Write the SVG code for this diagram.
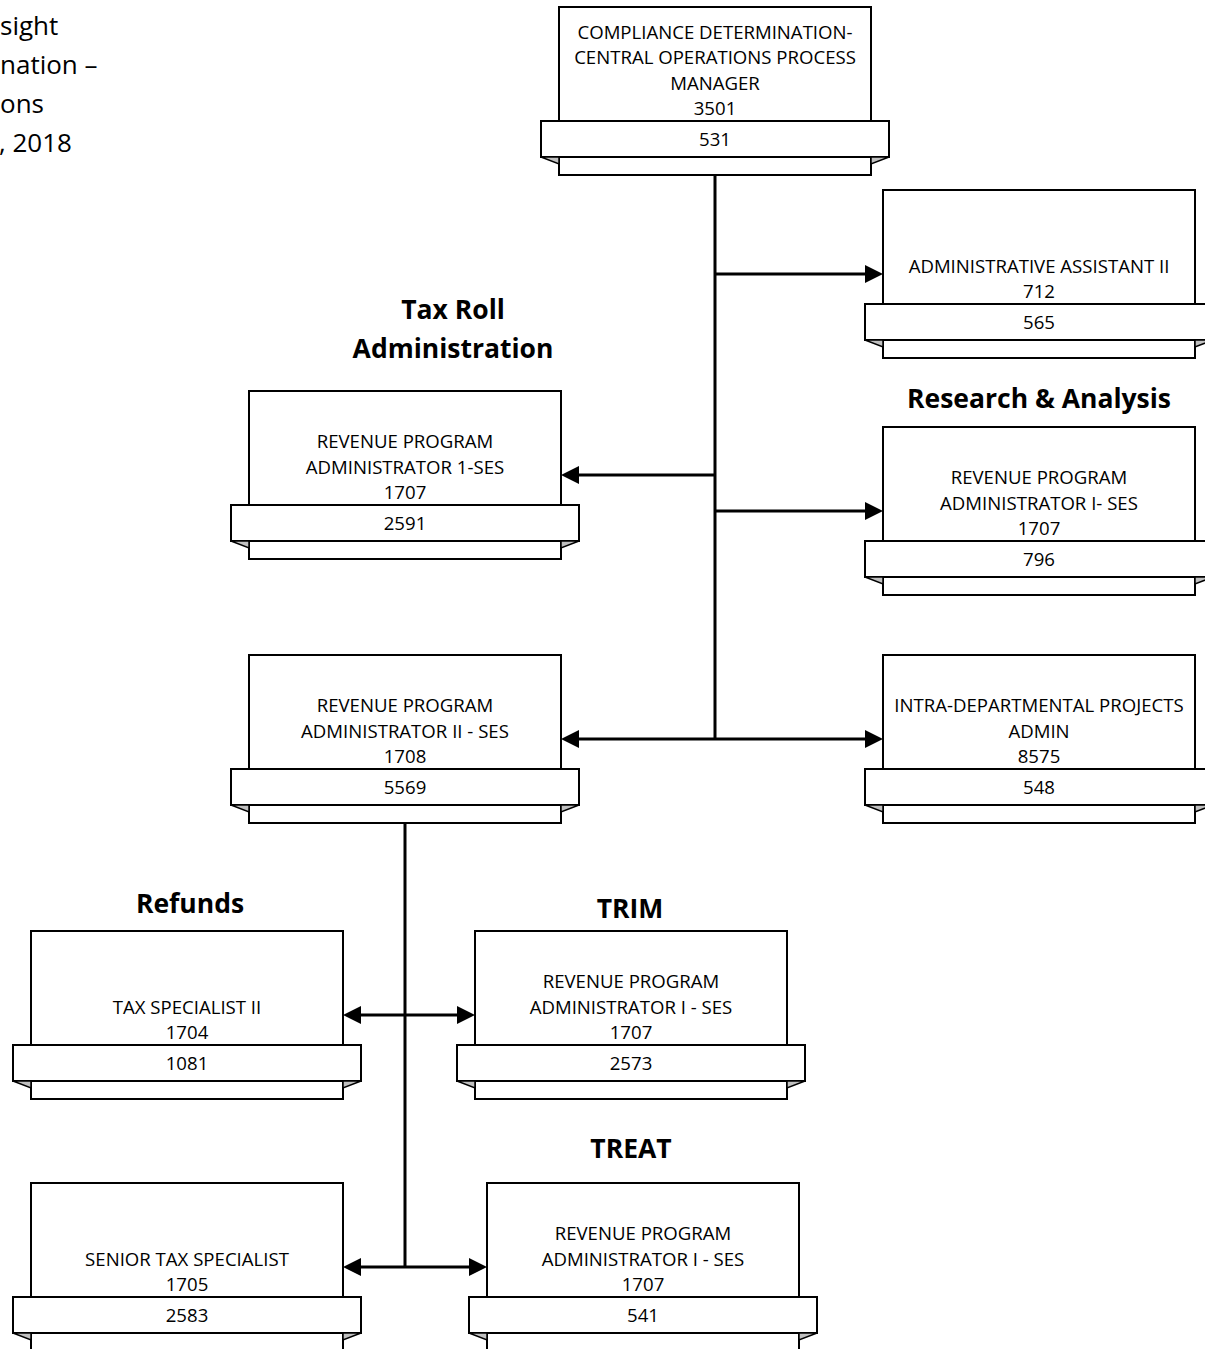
<svg xmlns="http://www.w3.org/2000/svg" xmlns:xlink="http://www.w3.org/1999/xlink" width="1205" height="1349" viewBox="0 0 1205 1349">
  <style>
    .box { fill: #ffffff; stroke: #000000; stroke-width: 2; }
    .fold { fill: #c0c0c0; stroke: #000000; stroke-width: 1.5; stroke-linejoin: miter; }
    .t { font-family: "Open Sans", "Liberation Sans", sans-serif; font-size: 18.6px; text-anchor: middle; fill: #000000; }
    .h { font-family: "Open Sans", "Liberation Sans", sans-serif; font-size: 26.5px; font-weight: 700; text-anchor: middle; fill: #000000; }
    .cap { font-family: "Open Sans", "Liberation Sans", sans-serif; font-size: 26px; fill: #000000; }
    .conn { stroke: #000000; stroke-width: 3; fill: none; }
  </style>
  <defs>
    <!-- position card: body box, number banner across the bottom, folded banner ends -->
    <g id="card">
      <rect class="box" x="0" y="0" width="312" height="168"/>
      <rect class="box" x="-18" y="114" width="348" height="36"/>
      <polygon class="fold" points="-18,150 0,150 0,157"/>
      <polygon class="fold" points="330,150 312,150 312,157"/>
    </g>
    <marker id="ah" markerUnits="userSpaceOnUse" markerWidth="18" markerHeight="18" refX="14" refY="9" orient="auto-start-reverse">
      <path d="M0,0 L18,9 L0,18 z" fill="#000000"/>
    </marker>
  </defs>

  <!-- title block -->
  <g id="title">
    <text class="cap" x="0" y="35">sight</text>
    <text class="cap" x="0" y="74">nation –</text>
    <text class="cap" x="0" y="113">ons</text>
    <text class="cap" x="-1" y="152">, 2018</text>
  </g>

  <!-- section headings -->
  <g id="headings">
    <text class="h" x="453" y="319">Tax Roll</text>
    <text class="h" x="453" y="358">Administration</text>
    <text class="h" x="1039" y="408">Research &amp; Analysis</text>
    <text class="h" x="190" y="913">Refunds</text>
    <text class="h" x="630" y="918">TRIM</text>
    <text class="h" x="631" y="1158">TREAT</text>
  </g>

  <!-- connectors -->
  <g id="connectors">
    <line class="conn" x1="715" y1="175" x2="715" y2="739"/>
    <line class="conn" x1="715" y1="274" x2="879" y2="274" marker-end="url(#ah)"/>
    <line class="conn" x1="715" y1="475" x2="565" y2="475" marker-end="url(#ah)"/>
    <line class="conn" x1="715" y1="511" x2="879" y2="511" marker-end="url(#ah)"/>
    <line class="conn" x1="565" y1="739" x2="879" y2="739" marker-start="url(#ah)" marker-end="url(#ah)"/>
    <line class="conn" x1="405" y1="823" x2="405" y2="1267"/>
    <line class="conn" x1="347" y1="1015" x2="471" y2="1015" marker-start="url(#ah)" marker-end="url(#ah)"/>
    <line class="conn" x1="347" y1="1267" x2="483" y2="1267" marker-start="url(#ah)" marker-end="url(#ah)"/>
  </g>

  <!-- positions -->
  <g id="n-3501">
    <use xlink:href="#card" x="559" y="7"/>
    <text class="t" x="715" y="38.5">COMPLIANCE DETERMINATION-</text>
    <text class="t" x="715" y="64">CENTRAL OPERATIONS PROCESS</text>
    <text class="t" x="715" y="89.5">MANAGER</text>
    <text class="t" x="715" y="115">3501</text>
    <text class="t" x="715" y="146">531</text>
  </g>

  <g id="n-712">
    <use xlink:href="#card" x="883" y="190"/>
    <text class="t" x="1039" y="272.5">ADMINISTRATIVE ASSISTANT II</text>
    <text class="t" x="1039" y="298">712</text>
    <text class="t" x="1039" y="329">565</text>
  </g>

  <g id="n-2591">
    <use xlink:href="#card" x="249" y="391"/>
    <text class="t" x="405" y="448">REVENUE PROGRAM</text>
    <text class="t" x="405" y="473.5">ADMINISTRATOR 1-SES</text>
    <text class="t" x="405" y="499">1707</text>
    <text class="t" x="405" y="530">2591</text>
  </g>

  <g id="n-796">
    <use xlink:href="#card" x="883" y="427"/>
    <text class="t" x="1039" y="484">REVENUE PROGRAM</text>
    <text class="t" x="1039" y="509.5">ADMINISTRATOR I- SES</text>
    <text class="t" x="1039" y="535">1707</text>
    <text class="t" x="1039" y="566">796</text>
  </g>

  <g id="n-5569">
    <use xlink:href="#card" x="249" y="655"/>
    <text class="t" x="405" y="712">REVENUE PROGRAM</text>
    <text class="t" x="405" y="737.5">ADMINISTRATOR II - SES</text>
    <text class="t" x="405" y="763">1708</text>
    <text class="t" x="405" y="794">5569</text>
  </g>

  <g id="n-548">
    <use xlink:href="#card" x="883" y="655"/>
    <text class="t" x="1039" y="712">INTRA-DEPARTMENTAL PROJECTS</text>
    <text class="t" x="1039" y="737.5">ADMIN</text>
    <text class="t" x="1039" y="763">8575</text>
    <text class="t" x="1039" y="794">548</text>
  </g>

  <g id="n-1081">
    <use xlink:href="#card" x="31" y="931"/>
    <text class="t" x="187" y="1013.5">TAX SPECIALIST II</text>
    <text class="t" x="187" y="1039">1704</text>
    <text class="t" x="187" y="1070">1081</text>
  </g>

  <g id="n-2573">
    <use xlink:href="#card" x="475" y="931"/>
    <text class="t" x="631" y="988">REVENUE PROGRAM</text>
    <text class="t" x="631" y="1013.5">ADMINISTRATOR I - SES</text>
    <text class="t" x="631" y="1039">1707</text>
    <text class="t" x="631" y="1070">2573</text>
  </g>

  <g id="n-2583">
    <use xlink:href="#card" x="31" y="1183"/>
    <text class="t" x="187" y="1265.5">SENIOR TAX SPECIALIST</text>
    <text class="t" x="187" y="1291">1705</text>
    <text class="t" x="187" y="1322">2583</text>
  </g>

  <g id="n-541">
    <use xlink:href="#card" x="487" y="1183"/>
    <text class="t" x="643" y="1240">REVENUE PROGRAM</text>
    <text class="t" x="643" y="1265.5">ADMINISTRATOR I - SES</text>
    <text class="t" x="643" y="1291">1707</text>
    <text class="t" x="643" y="1322">541</text>
  </g>
</svg>
